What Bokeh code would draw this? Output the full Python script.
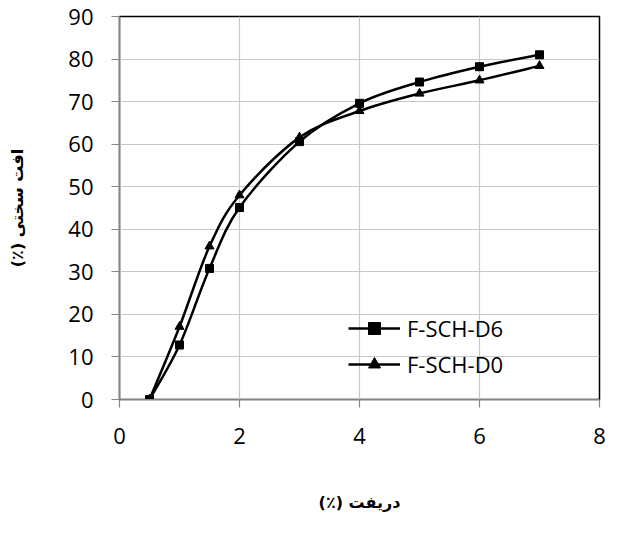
from bokeh.plotting import figure
from bokeh.models import Range1d, SingleIntervalTicker, Legend, LegendItem
from bokeh.embed import file_html
from bokeh.resources import INLINE

# ---- data ----
drift = [0.5, 1, 1.5, 2, 3, 4, 5, 6, 7]
d6 = [0, 12.8, 30.8, 45.1, 60.6, 69.6, 74.6, 78.2, 81.0]
d0 = [0, 17.1, 36.0, 48.0, 61.6, 67.8, 71.9, 75.0, 78.4]
series_names = ["F-SCH-D6", "F-SCH-D0"]
x_title = "\u202bدریفت (٪)\u202c"
y_title = "\u202bافت سختی (٪)\u202c"

TICK_FONT = "Open Sans"
TITLE_FONT = "DejaVu Sans"


def smooth_segments(xs, ys):
    """Excel-like smoothed line: cubic Bezier segments (Catmull-Rom control points)."""
    n = len(xs)
    out = dict(x0=[], y0=[], x1=[], y1=[], cx0=[], cy0=[], cx1=[], cy1=[])
    for i in range(n - 1):
        ip = max(i - 1, 0)
        inn = min(i + 2, n - 1)
        out["x0"].append(xs[i]); out["y0"].append(ys[i])
        out["x1"].append(xs[i + 1]); out["y1"].append(ys[i + 1])
        out["cx0"].append(xs[i] + (xs[i + 1] - xs[ip]) / 6.0)
        out["cy0"].append(ys[i] + (ys[i + 1] - ys[ip]) / 6.0)
        out["cx1"].append(xs[i + 1] - (xs[inn] - xs[i]) / 6.0)
        out["cy1"].append(ys[i + 1] - (ys[inn] - ys[i]) / 6.0)
    return out


p = figure(width=606, height=518, output_backend="svg", toolbar_location=None,
           x_range=Range1d(0, 8), y_range=Range1d(0, 90),
           min_border_left=119, min_border_top=16, min_border_right=7,
           min_border_bottom=119)

p.background_fill_color = "white"
p.border_fill_color = "white"
p.outline_line_color = "black"
p.outline_line_width = 1.5

# axes
p.xaxis.ticker = SingleIntervalTicker(interval=2, num_minor_ticks=0)
p.yaxis.ticker = SingleIntervalTicker(interval=10, num_minor_ticks=0)
for ax in (p.xaxis, p.yaxis):
    ax.axis_line_color = "#868686"
    ax.axis_line_width = 1.2
    ax.major_tick_line_color = "#868686"
    ax.major_tick_line_width = 1.2
    ax.major_tick_out = 8
    ax.major_tick_in = 0
    ax.minor_tick_line_color = None
    ax.major_label_text_font = TICK_FONT
    ax.major_label_text_font_size = "22px"
    ax.major_label_text_color = "black"
    ax.axis_label_text_font = TITLE_FONT
    ax.axis_label_text_font_style = "bold"
    ax.axis_label_text_font_size = "16px"
    ax.axis_label_text_color = "black"

p.xaxis.major_label_standoff = 20
p.yaxis.major_label_standoff = 18
p.xaxis.axis_label = x_title
p.yaxis.axis_label = y_title
p.xaxis.axis_label_standoff = 46
p.yaxis.axis_label_standoff = 38

# grid
p.grid.grid_line_color = "#c8c8c8"
p.grid.grid_line_width = 1.2

# series
items = []
for name, ys, marker, msize in [(series_names[0], d6, "square", 8),
                                (series_names[1], d0, "triangle", 9)]:
    seg = smooth_segments(drift, ys)
    bez = p.bezier(x0="x0", y0="y0", x1="x1", y1="y1", cx0="cx0", cy0="cy0",
                   cx1="cx1", cy1="cy1", source=seg,
                   line_color="black", line_width=2.5)
    sc = p.scatter(drift, ys, marker=marker, size=msize,
                   fill_color="black", line_color="black")
    items.append(LegendItem(label=name, renderers=[bez, sc]))

legend = Legend(items=items, location=(229, 20), orientation="vertical",
                glyph_width=52, glyph_height=30, label_height=30,
                label_standoff=7, spacing=6, padding=0, margin=0,
                label_text_font=TICK_FONT, label_text_font_size="22px",
                label_text_color="black",
                background_fill_alpha=0, border_line_alpha=0)
p.add_layout(legend)

open("out.html", "w").write(file_html(p, INLINE))
